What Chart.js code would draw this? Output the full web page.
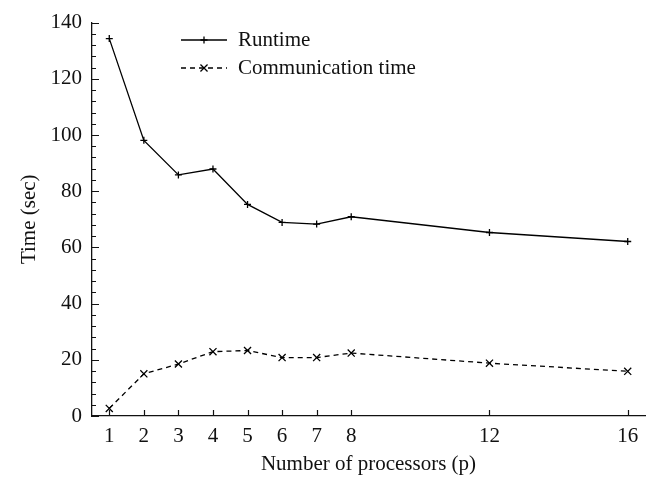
<!DOCTYPE html>
<html><head><meta charset="utf-8">
<script src="https://cdn.jsdelivr.net/npm/chart.js@4/dist/chart.umd.min.js"></script>
<style>html,body{margin:0;padding:0;background:#fff}#wrap{width:653px;height:477px}</style>
</head><body><div id="wrap"><canvas id="c" width="653" height="477"></canvas></div>
<script>
const processors = [1, 2, 3, 4, 5, 6, 7, 8, 12, 16];
const runtime = [134.3, 98.1, 85.8, 87.9, 75.3, 68.9, 68.3, 70.9, 65.3, 62.1];
const commTime = [2.7, 15.0, 18.5, 22.9, 23.3, 20.8, 20.8, 22.4, 18.8, 15.9];
const xTickValues = [1, 2, 3, 4, 5, 6, 7, 8, 12, 16];
const yTickValues = [0, 20, 40, 60, 80, 100, 120, 140];
const seriesNames = ['Runtime', 'Communication time'];
const xTitle = 'Number of processors (p)';
const yTitle = 'Time (sec)';

const FONT = 'Liberation Serif';
const FSIZE = 21;
const INK = '#111';

const ticksPlugin = {
  id: 'inwardTicks',
  afterDatasetsDraw(chart) {
    const ctx = chart.ctx, xs = chart.scales.x, ys = chart.scales.y;
    ctx.save();
    ctx.strokeStyle = INK; ctx.lineWidth = 1.2;
    ctx.beginPath();
    yTickValues.forEach(v => {
      const p = Math.round(ys.getPixelForValue(v)) + 0.5;
      ctx.moveTo(xs.left, p); ctx.lineTo(xs.left + 7, p);
    });
    for (let v = 0; v <= yTickValues[yTickValues.length - 1]; v += 4) {
      if (v % 20 === 0) continue;
      const p = Math.round(ys.getPixelForValue(v)) + 0.5;
      ctx.moveTo(xs.left, p); ctx.lineTo(xs.left + 4, p);
    }
    xTickValues.forEach(v => {
      const p = Math.round(xs.getPixelForValue(v)) + 0.5;
      ctx.moveTo(p, ys.bottom); ctx.lineTo(p, ys.bottom - 6);
    });
    ctx.stroke();
    ctx.restore();
  }
};

const legendPlugin = {
  id: 'lineLegend',
  afterDraw(chart) {
    const ctx = chart.ctx;
    const x0 = 181, x1 = 227, tx = 238;
    const rows = [40, 68];
    ctx.save();
    chart.data.datasets.forEach((ds, i) => {
      const y = rows[i];
      ctx.strokeStyle = ds.borderColor; ctx.lineWidth = ds.borderWidth;
      ctx.setLineDash(ds.borderDash || []);
      ctx.beginPath(); ctx.moveTo(x0, y); ctx.lineTo(x1, y); ctx.stroke();
      ctx.setLineDash([]);
      Chart.helpers.drawPoint(ctx, {pointStyle: ds.pointStyle, radius: ds.pointRadius, borderWidth: ds.pointBorderWidth}, (x0 + x1) / 2, y);
      ctx.fillStyle = INK;
      ctx.font = FSIZE + 'px "' + FONT + '"';
      ctx.textBaseline = 'middle'; ctx.textAlign = 'left';
      ctx.fillText(ds.label, tx, y);
    });
    ctx.restore();
  }
};

new Chart(document.getElementById('c'), {
  type: 'line',
  data: {
    datasets: [
      {
        label: seriesNames[0],
        data: processors.map((p, i) => ({x: p, y: runtime[i]})),
        borderColor: '#000', backgroundColor: '#000', borderWidth: 1.3,
        pointStyle: 'cross', pointRadius: 3.5, pointBorderWidth: 1.3,
        pointBorderColor: '#000', tension: 0, fill: false
      },
      {
        label: seriesNames[1],
        data: processors.map((p, i) => ({x: p, y: commTime[i]})),
        borderColor: '#000', backgroundColor: '#000', borderWidth: 1.3,
        borderDash: [5, 4],
        pointStyle: 'crossRot', pointRadius: 5, pointBorderWidth: 1.3,
        pointBorderColor: '#000', tension: 0, fill: false
      }
    ]
  },
  options: {
    responsive: false, animation: false, devicePixelRatio: 1,
    layout: {padding: {top: 19, right: 8, left: 0, bottom: 0}},
    plugins: {legend: {display: false}, tooltip: {enabled: false}},
    scales: {
      x: {
        type: 'linear', min: 0.5, max: 16.5,
        afterBuildTicks(s) { s.ticks = xTickValues.map(v => ({value: v})); },
        afterFit(s) { s.height = 61; },
        grid: {display: false, drawTicks: false},
        border: {display: true, color: INK, width: 1.3},
        ticks: {color: INK, padding: 8, font: {family: FONT, size: FSIZE}, maxRotation: 0, autoSkip: false},
        title: {display: true, text: xTitle, color: INK, font: {family: FONT, size: FSIZE}, padding: {top: 0, bottom: 0}}
      },
      y: {
        min: 0, max: 140,
        afterBuildTicks(s) { s.ticks = yTickValues.map(v => ({value: v})); },
        afterFit(s) { s.width = 92; },
        grid: {display: false, drawTicks: false},
        border: {display: true, color: INK, width: 1.3},
        ticks: {color: INK, padding: 10, font: {family: FONT, size: FSIZE}},
        title: {display: true, text: yTitle, color: INK, font: {family: FONT, size: FSIZE}, padding: {top: 17, bottom: 0}}
      }
    }
  },
  plugins: [ticksPlugin, legendPlugin]
});
</script></body></html>
